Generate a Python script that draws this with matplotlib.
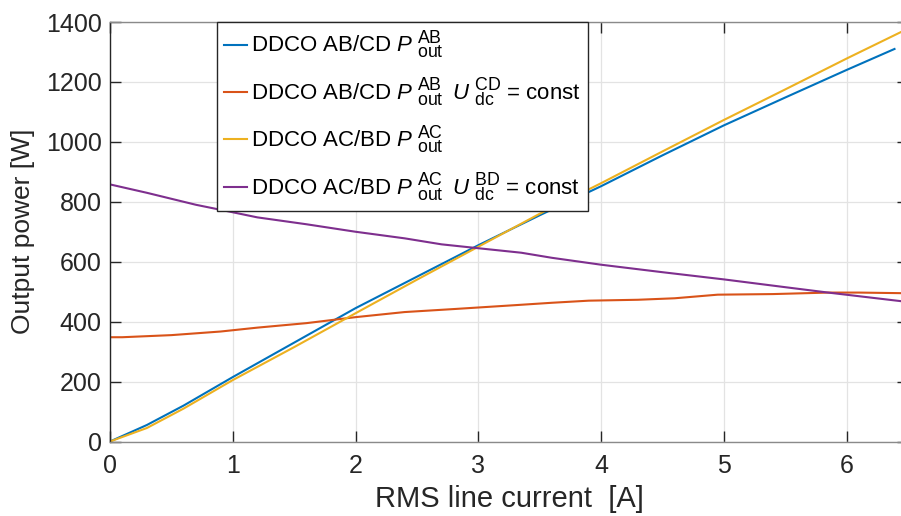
import numpy as np
import matplotlib
matplotlib.use('Agg')
import matplotlib.pyplot as plt
import matplotlib._mathtext as mathtext_internals

# MATLAB draws sub/superscripts bigger than mathtext's default 0.7
mathtext_internals.SHRINK_FACTOR = 0.8

plt.rcParams['font.family'] = ['Liberation Sans', 'DejaVu Sans']
plt.rcParams['mathtext.fontset'] = 'custom'
plt.rcParams['mathtext.rm'] = 'Liberation Sans'
plt.rcParams['mathtext.it'] = 'Liberation Sans:italic'

# RMS line current [A] / output power [W]
x_ab = [0, 0.3, 0.6, 1.0, 1.5, 2.0, 2.5, 3.0, 3.5, 4.0, 4.5, 5.0, 5.5, 6.0, 6.39]
p_ab = [0, 55, 120, 215, 330, 445, 550, 655, 755, 852, 955, 1055, 1148, 1240, 1310]

x_ab_u = [0, 0.1, 0.5, 0.9, 1.2, 1.6, 2.0, 2.4, 2.8, 3.3, 3.6, 3.9, 4.3, 4.6, 4.95, 5.4, 5.85, 6.1, 6.45]
p_ab_u = [348, 348, 355, 367, 380, 395, 415, 432, 442, 455, 463, 470, 473, 478, 490, 492, 497, 497, 495]

x_ac = [0, 0.3, 0.6, 1.0, 1.5, 2.0, 2.5, 3.0, 3.5, 4.0, 4.5, 5.0, 5.5, 6.0, 6.45]
p_ac = [0, 45, 110, 205, 315, 428, 540, 650, 760, 862, 968, 1073, 1175, 1278, 1368]

x_ac_u = [0, 0.3, 0.7, 1.0, 1.2, 1.6, 2.0, 2.4, 2.7, 3.0, 3.35, 3.6, 4.0, 4.5, 5.0, 5.5, 5.85, 6.45]
p_ac_u = [858, 830, 790, 765, 748, 725, 700, 678, 658, 645, 630, 613, 590, 565, 541, 515, 497, 468]

labels = [r'DDCO AB/CD $P\;{}^{\rm AB}_{\rm out}$',
          r'DDCO AB/CD $P\;{}^{\rm AB}_{\rm out}\;\;U\;{}^{\rm CD}_{\rm dc}$ = const',
          r'DDCO AC/BD $P\;{}^{\rm AC}_{\rm out}$',
          r'DDCO AC/BD $P\;{}^{\rm AC}_{\rm out}\;\;U\;{}^{\rm BD}_{\rm dc}$ = const']
colors = ['#0072BD', '#D95319', '#EDB120', '#7E2F8E']

W, H = 901, 516
fig = plt.figure(figsize=(W / 100, H / 100), dpi=100)
ax = fig.add_axes([110 / W, (H - 441.5) / H, 798 / W, 419.5 / H])

ax.plot(x_ab, p_ab, color=colors[0], lw=1.5, label=labels[0])
ax.plot(x_ab_u, p_ab_u, color=colors[1], lw=1.5, label=labels[1])
ax.plot(x_ac, p_ac, color=colors[2], lw=1.5, label=labels[2])
ax.plot(x_ac_u, p_ac_u, color=colors[3], lw=1.5, label=labels[3])

ax.set_xlim(0, 6.5)
ax.set_ylim(0, 1400)
ax.set_xticks([0, 1, 2, 3, 4, 5, 6])
ax.set_yticks(np.arange(0, 1401, 200))
ax.grid(True, color='#e3e3e3', lw=0.9)
ax.set_axisbelow(True)

for s in ['top', 'right', 'bottom']:
    ax.spines[s].set_color('#8a8a8a')
ax.spines['left'].set_color('#262626')
for s in ax.spines.values():
    s.set_linewidth(1.0)

ax.tick_params(axis='both', direction='in', length=8, width=1, color='#262626',
               labelsize=18, labelcolor='#262626', top=True, right=True)
ax.tick_params(axis='y', pad=6)
ax.tick_params(axis='x', pad=9)

ax.set_xlabel('RMS line current  [A]', fontsize=21, color='#262626', labelpad=5)
ax.set_ylabel('Output power [W]', fontsize=19, color='#262626', labelpad=8)

leg = ax.legend(loc='upper left', bbox_to_anchor=(0.134, 1.0), fontsize=16,
                frameon=True, fancybox=False, edgecolor='#262626', framealpha=1,
                handlelength=1.05, handletextpad=0.2, borderpad=0.3,
                labelspacing=0.64, borderaxespad=0)
leg.get_frame().set_linewidth(1.0)

fig.savefig('out.png', dpi=100)
